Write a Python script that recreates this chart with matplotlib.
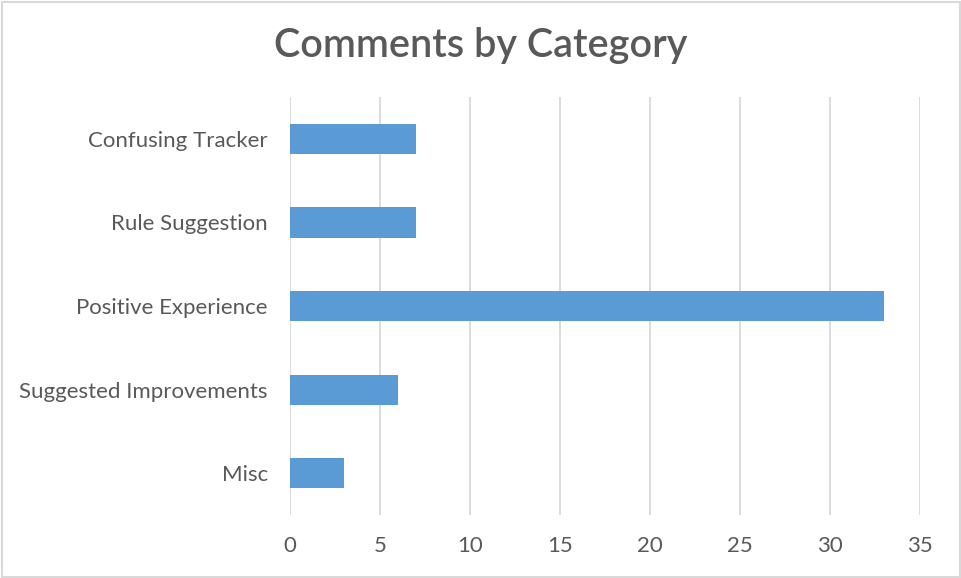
import matplotlib
matplotlib.use("Agg")
import matplotlib.pyplot as plt
from matplotlib.patches import Rectangle

categories = ["Misc", "Suggested Improvements", "Positive Experience",
              "Rule Suggestion", "Confusing Tracker"]
counts = [3, 6, 33, 7, 7]
x_ticks = [0, 5, 10, 15, 20, 25, 30, 35]

plt.rcParams["font.family"] = ["Lato", "DejaVu Sans"]

fig = plt.figure(figsize=(9.62, 5.78), dpi=100)
ax = fig.add_axes([0.3015, 0.109, 0.6548, 0.723])

ax.barh(range(len(categories)), counts, height=0.36, color="#5b9bd5", zorder=3)

ax.set_xlim(0, 35)
ax.set_ylim(-0.5, len(categories) - 0.5)
ax.set_xticks(x_ticks)
ax.set_yticks(range(len(categories)))
ax.set_yticklabels(categories)
ax.grid(axis="x", color="#d9d9d9", linewidth=1.3, zorder=0)
for s in ax.spines.values():
    s.set_visible(False)
ax.tick_params(axis="both", length=0, labelsize=16, colors="#595959")
ax.tick_params(axis="x", pad=15)
ax.tick_params(axis="y", pad=16)

fig.text(0.5, 0.922, "Comments by Category", ha="center", va="center",
         fontsize=28.5, fontweight="semibold", color="#595959")

fig.patches.append(Rectangle((0.002, 0.002), 0.996, 0.995, transform=fig.transFigure,
                             fill=False, edgecolor="#d9d9d9", linewidth=1.5))

fig.savefig("out.png", dpi=100)
